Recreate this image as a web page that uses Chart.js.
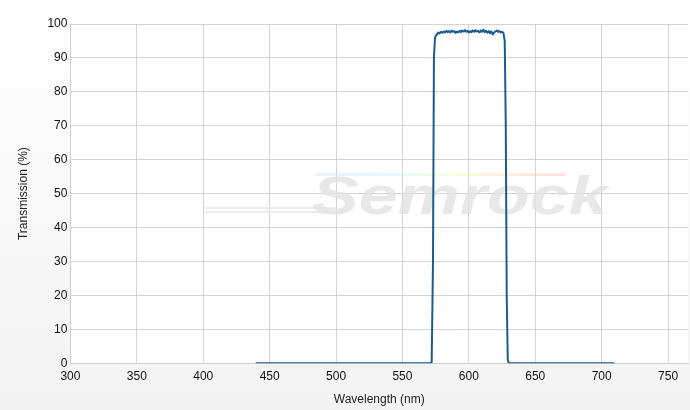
<!DOCTYPE html>
<html>
<head>
<meta charset="utf-8">
<script src="https://cdn.jsdelivr.net/npm/chart.js@4.4.0/dist/chart.umd.min.js"></script>
<style>
  html, body { margin: 0; padding: 0; }
  body { width: 690px; height: 410px; background: linear-gradient(to bottom, #ffffff 0%, #f3f3f3 100%); }
  #wrap { width: 690px; height: 410px; position: relative; }
</style>
</head>
<body>
<div id="wrap"><canvas id="myChart" width="690" height="410"></canvas></div>
<script>
// wavelength (nm) and transmission (%)
var wavelength = [440, 450, 470, 500, 530, 555, 565, 569, 571, 572, 573, 573.7, 574.5, 575.5,
    576, 577, 578, 579, 580, 581, 582, 583, 584, 585, 586, 587, 588, 589, 590, 591, 592, 593, 594, 595,
    596, 597, 598, 599, 600, 601, 602, 603, 604, 605, 606, 607, 608, 609, 610, 611, 612, 613, 614, 615,
    616, 617, 618, 619, 620, 621, 622, 623, 624, 625, 626, 627, 627.8, 628.5, 629.3,
    630, 631, 635, 650, 670, 690, 709];
var transmission = [0, 0, 0, 0, 0, 0, 0, 0.02, 0.05, 0.3, 30, 90, 96, 96.8,
    97.0, 97.5, 97.2, 97.7, 97.4, 97.8, 97.5, 98.0, 97.6, 97.9, 97.5, 98.1, 97.7, 97.9, 97.4, 97.8, 97.5, 98.0, 97.6, 98.1,
    97.8, 98.2, 97.7, 98.0, 97.5, 97.9, 97.6, 98.1, 97.7, 98.2, 97.8, 98.0, 97.5, 98.1, 97.7, 98.3, 97.6, 98.0, 97.4, 97.9,
    97.3, 97.8, 96.9, 97.5, 97.8, 98.1, 97.7, 97.9, 97.5, 97.7, 97.4, 95, 70, 20, 1,
    0.1, 0.02, 0, 0, 0, 0, 0];
var xTicks = [300, 350, 400, 450, 500, 550, 600, 650, 700, 750];
var yTicks = [0, 10, 20, 30, 40, 50, 60, 70, 80, 90, 100];

var points = [];
for (var i = 0; i < wavelength.length; i++) {
    points.push({ x: wavelength[i], y: transmission[i] });
}

// white plot area + faint watermark
var plotBg = {
    id: 'plotBg',
    beforeDraw: function(chart) {
        var a = chart.chartArea, c = chart.ctx;
        c.save();
        c.fillStyle = '#ffffff';
        c.fillRect(a.left, a.top, a.right - a.left, a.bottom - a.top);
        c.restore();
    },
    beforeDatasetsDraw: function(chart) {
        var c = chart.ctx;
        c.save();
        var g = c.createLinearGradient(315, 0, 565, 0);
        g.addColorStop(0, 'rgba(210,210,255,0.35)');
        g.addColorStop(0.3, 'rgba(190,245,255,0.45)');
        g.addColorStop(0.55, 'rgba(240,255,190,0.5)');
        g.addColorStop(0.75, 'rgba(255,225,190,0.5)');
        g.addColorStop(1, 'rgba(255,195,195,0.5)');
        c.fillStyle = g;
        c.fillRect(315, 173, 250, 3);
        c.strokeStyle = '#ebebeb';
        c.lineWidth = 2;
        c.beginPath();
        c.moveTo(205, 208); c.lineTo(335, 208);
        c.moveTo(205, 212); c.lineTo(330, 212);
        c.stroke();
        c.fillStyle = 'rgba(226,226,226,0.8)';
        c.translate(312, 214);
        c.scale(1.32, 1);
        c.font = 'italic bold 53px "Liberation Sans"';
        c.textBaseline = 'alphabetic';
        c.fillText('Semrock', 0, 0);
        c.setTransform(1, 0, 0, 1, 0, 0);
        c.font = '9px "Liberation Sans"';
        c.fillText('\u00AE', 594, 214);
        c.restore();
    }
};

var ctx = document.getElementById('myChart').getContext('2d');
var chart = new Chart(ctx, {
    type: 'scatter',
    data: {
        datasets: [{
            label: 'Transmission',
            data: points,
            showLine: true,
            borderColor: '#1b5c8c',
            borderWidth: 2,
            borderJoinStyle: 'round',
            borderCapStyle: 'round',
            pointRadius: 0,
            tension: 0
        }]
    },
    options: {
        responsive: false,
        animation: false,
        layout: { padding: { top: 24, right: 2, left: 16, bottom: 3 } },
        plugins: { legend: { display: false }, tooltip: { enabled: false } },
        scales: {
            x: {
                type: 'linear',
                min: 300,
                max: 765,
                afterBuildTicks: function(axis) {
                    axis.ticks = xTicks.map(function(v) { return { value: v }; });
                },
                grid: { color: '#d4d4d4', lineWidth: 1, drawTicks: false },
                border: { color: '#cfcfcf' },
                ticks: { color: '#111', font: { family: 'Liberation Sans', size: 12 }, padding: 6, maxRotation: 0 },
                title: { display: true, text: 'Wavelength (nm)', color: '#222', font: { family: 'Liberation Sans', size: 12 }, padding: { top: 3, bottom: 0 } }
            },
            y: {
                min: 0,
                max: 100,
                afterBuildTicks: function(axis) {
                    axis.ticks = yTicks.map(function(v) { return { value: v }; });
                },
                grid: { color: '#d4d4d4', lineWidth: 1, drawTicks: false },
                border: { color: '#cfcfcf' },
                ticks: { color: '#111', font: { family: 'Liberation Sans', size: 12 }, padding: 3 },
                title: { display: true, text: 'Transmission (%)', color: '#222', font: { family: 'Liberation Sans', size: 12 }, padding: { top: 0, bottom: 14 } }
            }
        }
    },
    plugins: [plotBg]
});
</script>
</body>
</html>
